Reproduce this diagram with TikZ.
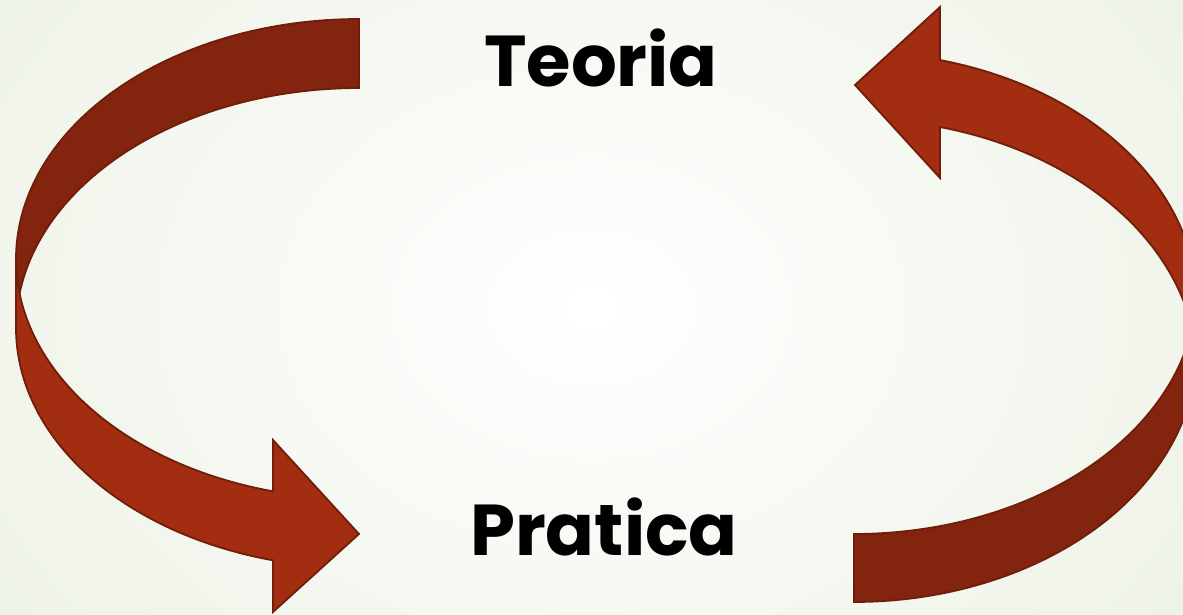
\documentclass[tikz,border=0pt]{standalone}
\usepackage{fontspec}
\setmainfont{Poppins}
\definecolor{bgouter}{RGB}{236,241,228}
\definecolor{backred}{RGB}{131,37,14}
\definecolor{frontred}{RGB}{162,45,16}
\definecolor{edgered}{RGB}{112,29,9}
\tikzset{
  backpiece/.style={fill=backred, draw=edgered, line width=1.8pt, line join=miter},
  frontpiece/.style={fill=frontred, draw=edgered, line width=1.8pt, line join=miter},
  label/.style={inner sep=0pt, anchor=base, font=\bfseries\fontsize{72}{78}\selectfont, text=black}
}
\begin{document}
\begin{tikzpicture}[x=1pt,y=-1pt]
\useasboundingbox (0,0) rectangle (1183,615);
\clip (0,0) rectangle (1183,615);
\shade[inner color=white, outer color=bgouter] (-200,-300) rectangle (1383,915);

% ---------- left arrow (back piece) ----------
\filldraw[backpiece] (359,19)
  -- plot[domain=270:171.74, samples=70, variable=\t] ({359+343*cos(\t)},{259+240*sin(\t)})
  -- plot[domain=188.265:270, samples=70, variable=\t] ({359+343*cos(\t)},{328+240*sin(\t)})
  -- cycle;
% ---------- left arrow (front piece) ----------
\filldraw[frontpiece] (16,259)
  -- plot[domain=180:104.52, samples=70, variable=\t] ({359+343*cos(\t)},{259+240*sin(\t)})
  -- (273,440) -- (359,534) -- (273,612)
  -- plot[domain=104.52:180, samples=70, variable=\t] ({359+343*cos(\t)},{328+240*sin(\t)})
  -- cycle;

% ---------- right arrow (back piece) ----------
\filldraw[backpiece] (854,602)
  -- plot[domain=90:0, samples=70, variable=\t] ({854+343*cos(\t)},{349+253*sin(\t)})
  -- plot[domain=0:90, samples=70, variable=\t] ({854+343*cos(\t)},{287+247*sin(\t)})
  -- cycle;
% ---------- right arrow (front piece) ----------
\filldraw[frontpiece] (1197,371)
  -- plot[domain=0:-75.48, samples=70, variable=\t] ({854+343*cos(\t)},{371+252*sin(\t)})
  -- (940,178) -- (855,85) -- (940,7)
  -- plot[domain=-75.48:0, samples=70, variable=\t] ({854+343*cos(\t)},{304+252*sin(\t)})
  -- cycle;

% ---------- labels ----------
\node[label] (teoria) at (601,87) {Teoria};
\node[label] (pratica) at (604,555) {Pratica};
\end{tikzpicture}
\end{document}
